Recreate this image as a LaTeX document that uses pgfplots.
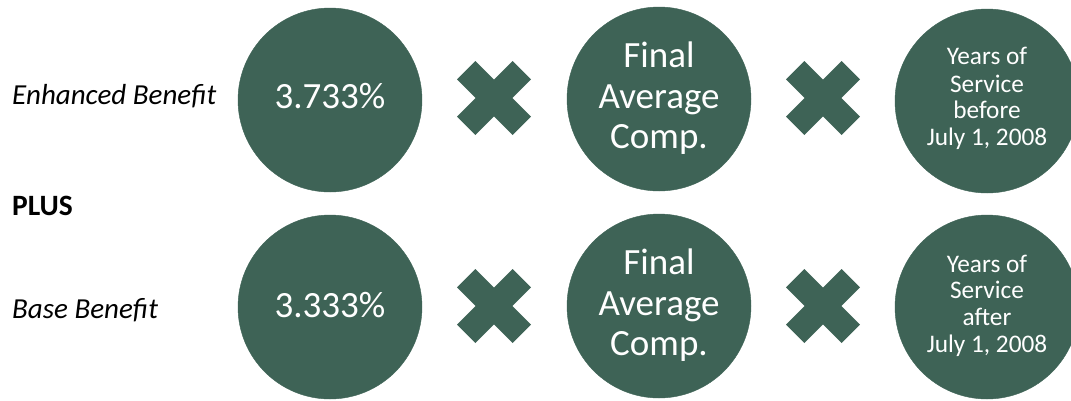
\documentclass[border=0pt]{standalone}
\usepackage{fontspec}
\setmainfont{Carlito}
\usepackage{pgfplots}
\pgfplotsset{compat=1.18}
\definecolor{pine}{HTML}{3E6356}

% thick diagonal cross, drawn as a plot mark (sizes in pt = px)
\pgfdeclareplotmark{bigx}{%
  \pgfpathmoveto{\pgfpoint{18.6pt}{37.0pt}}%
  \pgfpathlineto{\pgfpoint{0pt}{18.4pt}}%
  \pgfpathlineto{\pgfpoint{-18.6pt}{37.0pt}}%
  \pgfpathlineto{\pgfpoint{-37.0pt}{18.6pt}}%
  \pgfpathlineto{\pgfpoint{-18.4pt}{0pt}}%
  \pgfpathlineto{\pgfpoint{-37.0pt}{-18.6pt}}%
  \pgfpathlineto{\pgfpoint{-18.6pt}{-37.0pt}}%
  \pgfpathlineto{\pgfpoint{0pt}{-18.4pt}}%
  \pgfpathlineto{\pgfpoint{18.6pt}{-37.0pt}}%
  \pgfpathlineto{\pgfpoint{37.0pt}{-18.6pt}}%
  \pgfpathlineto{\pgfpoint{18.4pt}{0pt}}%
  \pgfpathlineto{\pgfpoint{37.0pt}{18.6pt}}%
  \pgfpathclose
  \pgfusepathqfill}

\tikzset{ct/.style={anchor=base, text=white, inner sep=0pt}}

\begin{document}
\begin{tikzpicture}
\begin{axis}[
  width=1071pt, height=400pt, scale only axis,
  xmin=0, xmax=1071, ymin=0, ymax=400,
  y dir=reverse,
  hide axis,
  clip=true,
]
% circles
\addplot[only marks, mark=*, mark size=92pt, color=pine, mark options={draw=none, fill=pine}]
  coordinates {(330,100) (659,99) (987,101) (330,307) (659,306) (987,307)};
% multiply signs
\addplot[only marks, mark=bigx, color=pine, mark options={draw=none, fill=pine}]
  coordinates {(494,98) (823,98) (494,306) (823,306)};

% row labels
\node[anchor=base west, inner sep=0pt, font=\fontsize{29}{31}\selectfont\itshape] at (axis cs:12,104) {Enhanced Benefit};
\node[anchor=base west, inner sep=0pt, font=\fontsize{29.5}{31}\selectfont\bfseries] at (axis cs:12,215) {PLUS};
\node[anchor=base west, inner sep=0pt, font=\fontsize{29}{31}\selectfont\itshape] at (axis cs:12,318) {Base Benefit};

% anchors for the circle texts
\coordinate (p1) at (axis cs:330,108);
\coordinate (p2) at (axis cs:330,317);
\coordinate (f1) at (axis cs:659,67);
\coordinate (f2) at (axis cs:659,108);
\coordinate (f3) at (axis cs:659,148);
\coordinate (g1) at (axis cs:659,274);
\coordinate (g2) at (axis cs:659,315);
\coordinate (g3) at (axis cs:659,355);
\coordinate (y1) at (axis cs:987,65);
\coordinate (y2) at (axis cs:987,92);
\coordinate (y3) at (axis cs:987,118);
\coordinate (y4) at (axis cs:987,145);
\coordinate (z1) at (axis cs:987,272);
\coordinate (z2) at (axis cs:987,298);
\coordinate (z3) at (axis cs:987,325);
\coordinate (z4) at (axis cs:987,352);
\end{axis}

\node[ct, font=\fontsize{37}{40}\selectfont] at (p1) {3.733\%};
\node[ct, font=\fontsize{37}{40}\selectfont] at (p2) {3.333\%};

\node[ct, font=\fontsize{37}{40}\selectfont] at (f1) {Final};
\node[ct, font=\fontsize{37}{40}\selectfont] at (f2) {Average};
\node[ct, font=\fontsize{37}{40}\selectfont] at (f3) {Comp.};
\node[ct, font=\fontsize{37}{40}\selectfont] at (g1) {Final};
\node[ct, font=\fontsize{37}{40}\selectfont] at (g2) {Average};
\node[ct, font=\fontsize{37}{40}\selectfont] at (g3) {Comp.};

\node[ct, font=\fontsize{25.3}{27}\selectfont] at (y1) {Years of};
\node[ct, font=\fontsize{25.3}{27}\selectfont] at (y2) {Service};
\node[ct, font=\fontsize{25.3}{27}\selectfont] at (y3) {before};
\node[ct, font=\fontsize{25.3}{27}\selectfont] at (y4) {July 1, 2008};
\node[ct, font=\fontsize{25.3}{27}\selectfont] at (z1) {Years of};
\node[ct, font=\fontsize{25.3}{27}\selectfont] at (z2) {Service};
\node[ct, font=\fontsize{25.3}{27}\selectfont] at (z3) {after};
\node[ct, font=\fontsize{25.3}{27}\selectfont] at (z4) {July 1, 2008};

\pgfresetboundingbox
\path (current axis.south west) rectangle (current axis.north east);
\end{tikzpicture}
\end{document}
